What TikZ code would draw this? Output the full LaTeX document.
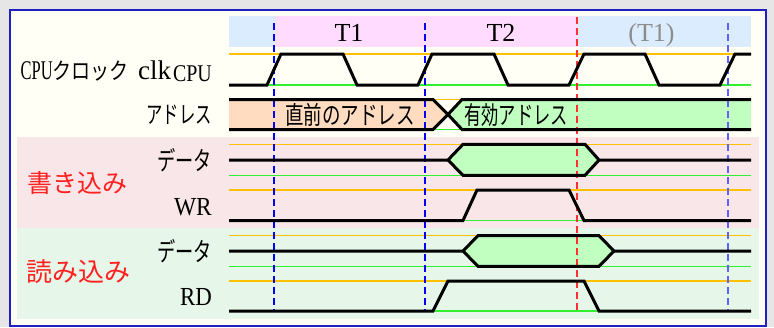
\documentclass[tikz,border=0pt]{standalone}
\usepackage{fontspec}
\usepackage{graphicx}
\setmainfont{Liberation Serif}
\newfontfamily\jp{Noto Sans CJK JP}
\definecolor{bggray}{HTML}{E6E6E6}
\definecolor{framecol}{HTML}{2020C0}
\definecolor{ivory}{HTML}{FFFFF6}
\definecolor{hdrblue}{HTML}{DCECFF}
\definecolor{hdrpink}{HTML}{FFDCFF}
\definecolor{addrorange}{HTML}{FFDCC0}
\definecolor{busgreen}{HTML}{C0FFC0}
\definecolor{wrbg}{HTML}{F8E6E8}
\definecolor{rdbg}{HTML}{E6F6E8}
\definecolor{refor}{HTML}{FFC000}
\definecolor{refgr}{HTML}{30F030}
\definecolor{redlbl}{HTML}{FF2020}
\definecolor{reddash}{HTML}{FF3030}
\definecolor{bluedash}{HTML}{0000FF}
\definecolor{bluedash2}{HTML}{6060FF}
\tikzset{
  wave/.style={line width=3pt, black, line join=miter},
  refhi/.style={refor, line width=1.3pt},
  reflo/.style={refgr, line width=1.3pt},
  vdash/.style={line width=1.3pt, dash pattern=on 7pt off 4pt},
  lbl/.style={inner sep=0pt},
}
\begin{document}
\begin{tikzpicture}[x=1pt,y=-1pt]
\useasboundingbox (0,0) rectangle (774,327);
\fill[bggray] (0,0) rectangle (774,327);
\draw[framecol, line width=2pt, fill=ivory] (9.5,9.5) rectangle (765.5,325.5);
% section backgrounds
\fill[wrbg] (17,136.7) rectangle (759,227.7);
\fill[rdbg] (17,227.7) rectangle (759,318.5);
% header
\fill[hdrblue] (229,16) rectangle (275,46.5);
\fill[hdrpink] (275,16) rectangle (577,46.5);
\fill[hdrblue] (577,16) rectangle (751,46.5);
% bus fills
\fill[addrorange] (229,99.5) -- (433,99.5) -- (448,114.5) -- (433,129.5) -- (229,129.5) -- cycle;
\fill[busgreen] (751,99.5) -- (462,99.5) -- (448,114.5) -- (462,129.5) -- (751,129.5) -- cycle;
\fill[busgreen] (448,160) -- (463,144.3) -- (585,144.3) -- (599,160) -- (585,175.3) -- (463,175.3) -- cycle;
\fill[busgreen] (463,251) -- (478,235.7) -- (599,235.7) -- (614,251) -- (599,266.3) -- (478,266.3) -- cycle;
% reference lines
\foreach \y in {54,99.5,144.3,190,235.7,281} \draw[refhi] (229,\y) -- (751,\y);
\foreach \y in {85,129.5,175.3,220.5,266.3,311} \draw[reflo] (229,\y) -- (751,\y);
% dashed time marks
\draw[vdash, bluedash] (274,23) -- (274,310);
\draw[vdash, bluedash] (425,23) -- (425,310);
\draw[vdash, reddash] (577,17) -- (577,310);
\draw[vdash, bluedash2] (728,23) -- (728,310);
% waveforms
\draw[wave] (229,85) -- (267,85) -- (281,54) -- (343,54) -- (357,85) -- (418,85) -- (432,54) -- (494,54) -- (508,85) -- (569,85) -- (584,54) -- (645,54) -- (659,85) -- (720,85) -- (735,54) -- (751,54);
\draw[wave] (229,99.5) -- (433,99.5) -- (448,114.5) -- (433,129.5) -- (229,129.5);
\draw[wave] (751,99.5) -- (462,99.5) -- (448,114.5) -- (462,129.5) -- (751,129.5);
\draw[wave] (229,160) -- (448,160) -- (463,144.3) -- (585,144.3) -- (599,160) -- (751,160);
\draw[wave] (448,160) -- (463,175.3) -- (585,175.3) -- (599,160);
\draw[wave] (229,220.5) -- (463,220.5) -- (477,190) -- (569,190) -- (584,220.5) -- (751,220.5);
\draw[wave] (229,251) -- (463,251) -- (478,235.7) -- (599,235.7) -- (614,251) -- (751,251);
\draw[wave] (463,251) -- (478,266.3) -- (599,266.3) -- (614,251);
\draw[wave] (229,311) -- (433,311) -- (448,281) -- (584,281) -- (599,311) -- (751,311);
% header texts
\node[lbl, anchor=base] (t1) at (349,41.7) {\fontsize{26}{26}\selectfont T1};
\node[lbl, anchor=base] (t2) at (501,41.7) {\fontsize{26}{26}\selectfont T2};
\node[lbl, anchor=base, text=black!45] (t3) at (651.5,41.7) {\fontsize{26}{26}\selectfont (T1)};
% signal labels
\node[lbl, anchor=base east] (lclk) at (212,79) {\fontsize{27}{27}\selectfont\scalebox{0.61}[1]{CPU}{\jp\fontsize{23}{23}\selectfont\scalebox{0.83}[1]{クロック}}\hspace{9pt}clk\hspace{2pt}\raisebox{-2pt}{\fontsize{24}{24}\selectfont\scalebox{0.83}[1]{CPU}}};
\node[lbl, anchor=east] (laddr) at (212,114.5) {\jp\fontsize{24}{24}\selectfont\scalebox{0.68}[1]{アドレス}};
\node[lbl, anchor=east] (lwd) at (212,160.5) {\jp\fontsize{26}{26}\selectfont\scalebox{0.7}[1]{データ}};
\node[lbl, anchor=base east] (lwr) at (212,215) {\fontsize{26}{26}\selectfont\scalebox{0.9}[1]{WR}};
\node[lbl, anchor=east] (lrd2) at (212,251.5) {\jp\fontsize{26}{26}\selectfont\scalebox{0.7}[1]{データ}};
\node[lbl, anchor=base east] (lrd) at (212,305.7) {\fontsize{26}{26}\selectfont\scalebox{0.88}[1]{RD}};
\node[lbl, text=redlbl] (lwrite) at (77.5,183) {\jp\fontsize{25}{25}\selectfont 書き込み};
\node[lbl, text=redlbl] (lread) at (78,272) {\jp\fontsize{26}{26}\selectfont 読み込み};
% bus texts
\node[lbl] (aprev) at (350,115) {\jp\fontsize{25}{25}\selectfont\scalebox{0.74}[1]{直前のアドレス}};
\node[lbl] (avalid) at (516,115) {\jp\fontsize{25}{25}\selectfont\scalebox{0.69}[1]{有効アドレス}};
\end{tikzpicture}
\end{document}
